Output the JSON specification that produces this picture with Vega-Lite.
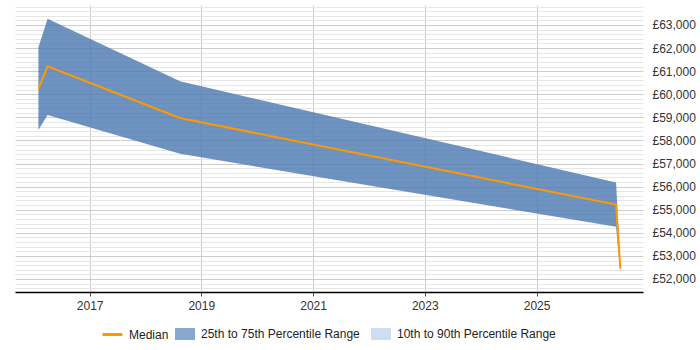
{
  "$schema": "https://vega.github.io/schema/vega-lite/v6.json",
  "width": 628,
  "height": 287,
  "autosize": {"type": "none"},
  "padding": {"left": 15, "top": 5, "right": 57, "bottom": 58},
  "background": "white",
  "config": {
    "view": {"stroke": null},
    "font": "Liberation Sans",
    "axis": {"labelFont": "Liberation Sans", "labelFontSize": 12, "labelColor": "#333333"},
    "legend": {"labelFont": "Liberation Sans", "labelFontSize": 12, "labelColor": "#222222"}
  },
  "data": {
    "values": [
      {"date": "2016-02-01", "median": 60230, "q25": 58450, "q75": 62040},
      {"date": "2016-04-01", "median": 61210, "q25": 59100, "q75": 63270},
      {"date": "2018-08-15", "median": 58970, "q25": 57420, "q75": 60560},
      {"date": "2026-06-05", "median": 55220, "q25": 54260, "q75": 56180},
      {"date": "2026-07-03", "median": 52460, "q25": 52250, "q75": 52550}
    ]
  },
  "encoding": {
    "x": {
      "field": "date",
      "type": "temporal",
      "title": null,
      "scale": {"domain": [{"year": 2015, "month": 9, "date": 1}, {"year": 2026, "month": 11, "date": 28}]},
      "axis": {
        "values": [{"year": 2017}, {"year": 2019}, {"year": 2021}, {"year": 2023}, {"year": 2025}],
        "format": "%Y",
        "grid": true,
        "gridColor": "#cccccc",
        "domainColor": "#000000",
        "domainWidth": 1.5,
        "tickColor": "#555555",
        "tickSize": 4,
        "labelPadding": 4,
        "labelFlush": false
      }
    }
  },
  "layer": [
    {
      "mark": {"type": "area", "fillOpacity": 0.8, "interpolate": "linear"},
      "encoding": {
        "y": {
          "field": "q25",
          "type": "quantitative",
          "title": null,
          "scale": {"domain": [51437, 63865], "nice": false, "zero": false},
          "axis": {
            "orient": "right",
            "values": [51600, 51800, 52000, 52200, 52400, 52600, 52800, 53000, 53200, 53400, 53600, 53800, 54000, 54200, 54400, 54600, 54800, 55000, 55200, 55400, 55600, 55800, 56000, 56200, 56400, 56600, 56800, 57000, 57200, 57400, 57600, 57800, 58000, 58200, 58400, 58600, 58800, 59000, 59200, 59400, 59600, 59800, 60000, 60200, 60400, 60600, 60800, 61000, 61200, 61400, 61600, 61800, 62000, 62200, 62400, 62600, 62800, 63000, 63200, 63400, 63600, 63800],
            "tickCount": 200,
            "labelExpr": "datum.value % 1000 === 0 ? '£' + format(datum.value, ',') : ''",
            "labelOverlap": false,
            "grid": true,
            "gridColor": {"condition": {"test": "datum.value % 1000 === 0", "value": "#cccccc"}, "value": "#e6e6e6"},
            "domain": false,
            "ticks": false,
            "labelPadding": 9,
            "labelBound": false
          }
        },
        "y2": {"field": "q75"},
        "fill": {
          "datum": "25th to 75th Percentile Range",
          "type": "nominal",
          "scale": {
            "domain": ["25th to 75th Percentile Range", "10th to 90th Percentile Range"],
            "range": ["#4a78b0", "#b2cde8"]
          },
          "legend": {
            "title": null,
            "orient": "none",
            "direction": "horizontal",
            "legendX": 159,
            "legendY": 318,
            "symbolType": "M-1,-0.6H1V0.6H-1Z",
            "symbolSize": 400,
            "symbolOpacity": 0.65,
            "symbolFillOpacity": 0.65,
            "labelOffset": 5,
            "columnPadding": 10
          }
        }
      }
    },
    {
      "mark": {"type": "line", "strokeWidth": 2},
      "encoding": {
        "y": {"field": "median", "type": "quantitative"},
        "stroke": {
          "datum": "Median",
          "type": "nominal",
          "scale": {"domain": ["Median"], "range": ["#ff9900"]},
          "legend": {
            "title": null,
            "orient": "none",
            "direction": "horizontal",
            "legendX": 86,
            "legendY": 318,
            "symbolType": "stroke",
            "symbolSize": 400,
            "symbolStrokeWidth": 3,
            "labelOffset": 5
          }
        }
      }
    }
  ]
}
